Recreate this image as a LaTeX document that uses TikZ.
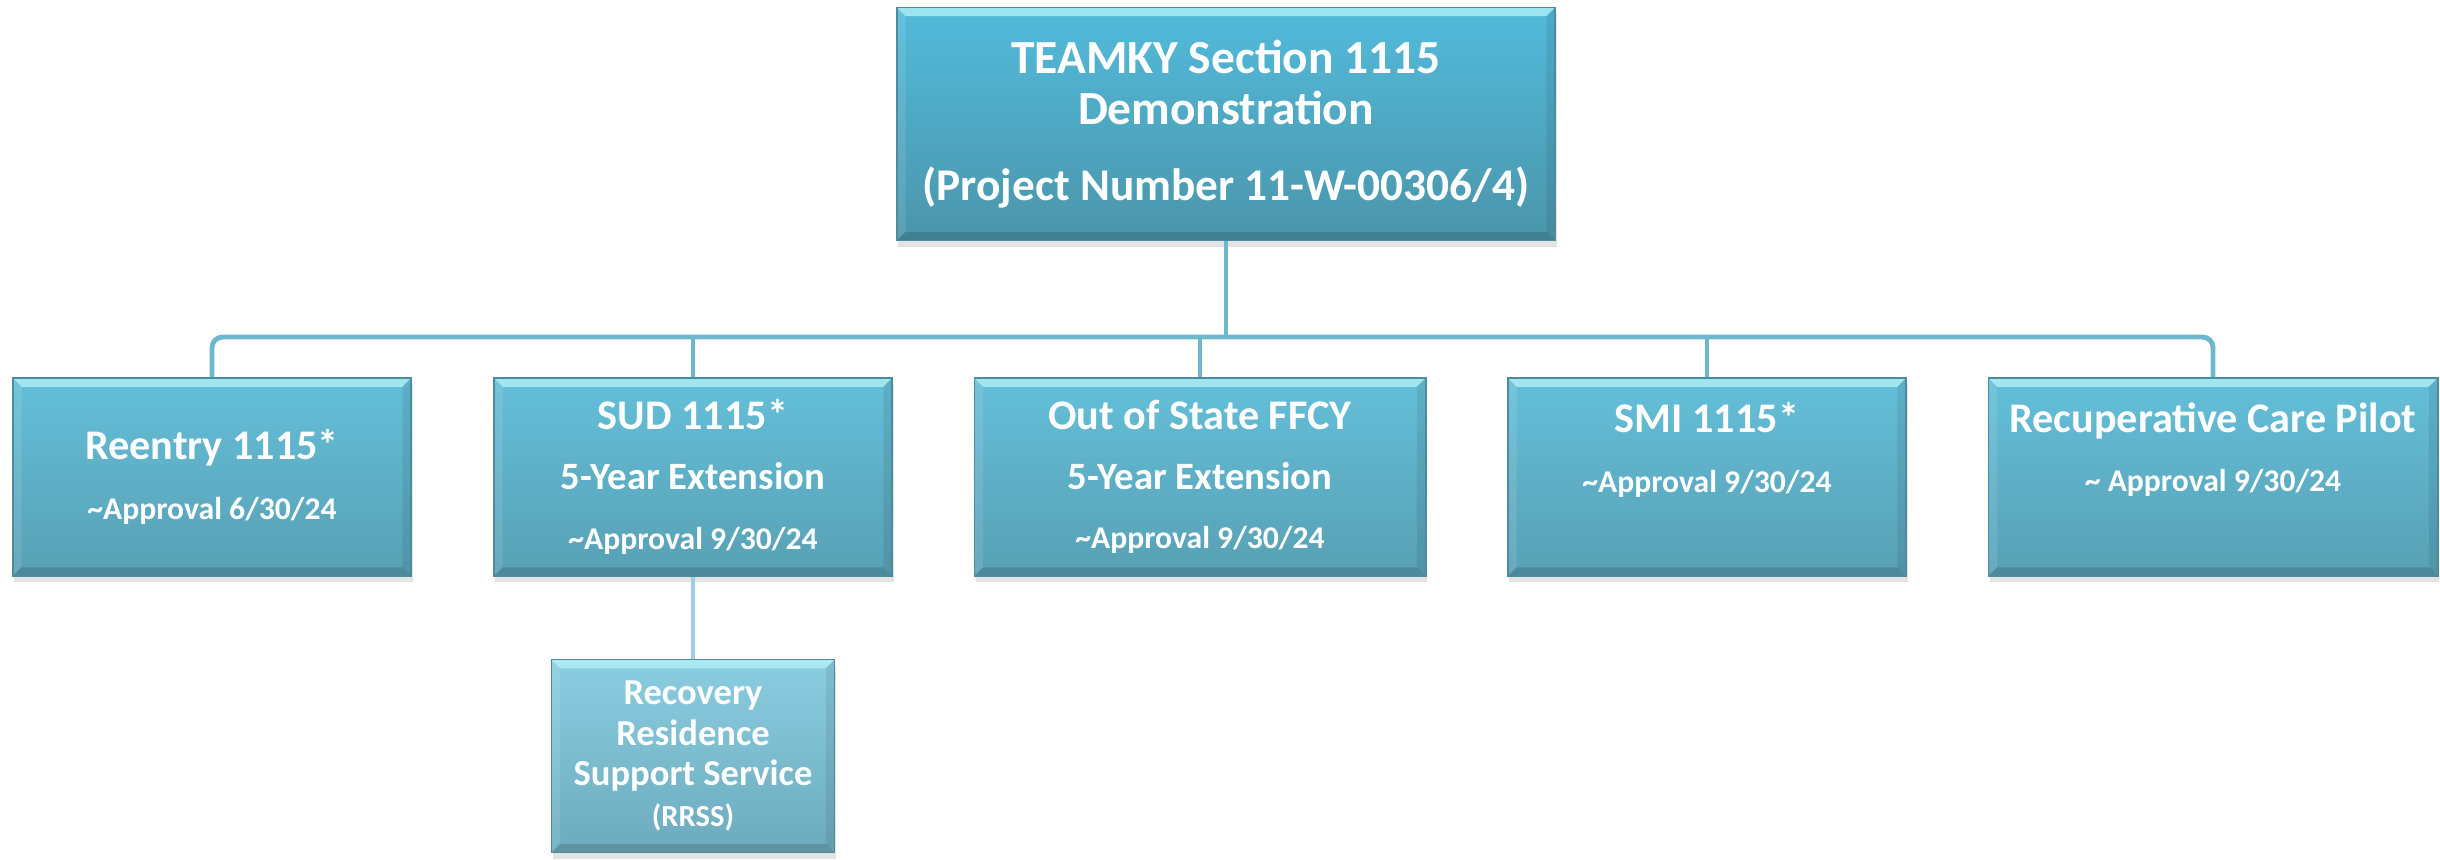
\documentclass[tikz,border=0pt]{standalone}
\usepackage{fontspec}
\setmainfont{Carlito}
\usetikzlibrary{shadows}
\definecolor{headtop}{HTML}{52BBDB}
\definecolor{headbot}{HTML}{4B95AA}
\definecolor{boxtop}{HTML}{64BFD9}
\definecolor{boxbot}{HTML}{58A0B4}
\definecolor{subtop}{HTML}{8BCDE1}
\definecolor{subbot}{HTML}{6CABBD}
\definecolor{boxedge}{HTML}{4D8C9D}
\definecolor{bevellight}{HTML}{B6F4F8}
\definecolor{linkcol}{HTML}{6DB8CC}
\definecolor{sublink}{HTML}{9DD0E0}
\newcommand{\extsize}{\fontsize{11}{17}\selectfont}
\newcommand{\datesize}{\fontsize{9}{17}\selectfont}
\newcommand{\rrsssize}{\fontsize{8.7}{11.6}\selectfont}
\newcommand{\projsize}{\fontsize{12.9}{14.5}\selectfont}
\tikzset{
  bevel/.style={path picture={
    \fill[bevellight,opacity=0.75] (path picture bounding box.north west) -- (path picture bounding box.north east)
      -- ([xshift=-2.5pt,yshift=-2.5pt]path picture bounding box.north east) -- ([xshift=2.5pt,yshift=-2.5pt]path picture bounding box.north west) -- cycle;
    \fill[black,opacity=0.14] (path picture bounding box.south west) -- (path picture bounding box.south east)
      -- ([xshift=-2.5pt,yshift=2.5pt]path picture bounding box.south east) -- ([xshift=2.5pt,yshift=2.5pt]path picture bounding box.south west) -- cycle;
    \fill[black,opacity=0.08] (path picture bounding box.north east) -- (path picture bounding box.south east)
      -- ([xshift=-2.5pt,yshift=2.5pt]path picture bounding box.south east) -- ([xshift=-2.5pt,yshift=-2.5pt]path picture bounding box.north east) -- cycle;
    \fill[white,opacity=0.10] (path picture bounding box.north west) -- (path picture bounding box.south west)
      -- ([xshift=2.5pt,yshift=2.5pt]path picture bounding box.south west) -- ([xshift=2.5pt,yshift=-2.5pt]path picture bounding box.north west) -- cycle;
  }},
  box/.style={rectangle, draw=boxedge, line width=0.5pt, top color=boxtop, bottom color=boxbot,
    text=white, align=center, inner sep=0pt, minimum width=3.98cm, minimum height=1.98cm, bevel,
    drop shadow={opacity=0.22, shadow xshift=0.4pt, shadow yshift=-1.8pt},
    font=\bfseries\fontsize{12}{17}\selectfont},
  headbox/.style={box, top color=headtop, bottom color=headbot, minimum width=6.58cm, minimum height=2.33cm,
    font=\bfseries\fontsize{13.5}{14.5}\selectfont},
  subbox/.style={box, top color=subtop, bottom color=subbot, minimum width=2.83cm, minimum height=1.93cm,
    font=\bfseries\fontsize{10.4}{11.6}\selectfont},
  link/.style={draw=linkcol, line width=1.4pt},
}

\begin{document}
\begin{tikzpicture}[x=0.01cm, y=-0.01cm]
  \useasboundingbox (0,0) rectangle (2440,859);
  % top
  \node[headbox] (top) at (1226,124) {TEAMKY Section 1115\\Demonstration\\[7pt]{\projsize (Project Number 11-W-00306/4)}};
  % row of waivers
  \node[box] (reentry) at (212,477) {Reentry 1115*\\{\datesize\textasciitilde Approval 6/30/24}};
  \node[box] (sud) at (693,477) {SUD 1115*\\{\extsize 5-Year Extension}\\{\datesize\textasciitilde Approval 9/30/24}};
  \node[box, minimum width=4.51cm] (ffcy) at (1200,477) {Out of State FFCY\\{\extsize 5-Year Extension}\\{\datesize\textasciitilde Approval 9/30/24}};
  \node[box] (smi) at (1707,477) {SMI 1115*\\{\datesize\textasciitilde Approval 9/30/24}\\\mbox{}};
  \node[box, minimum width=4.49cm] (recup) at (2213,477) {Recuperative Care Pilot\\{\datesize\textasciitilde{} Approval 9/30/24}\\\mbox{}};
  % under SUD
  \node[subbox] (rrss) at (693,756) {Recovery\\Residence\\Support Service\\{\rrsssize (RRSS)}};
  % lines
  \coordinate (bar) at (1226,337);
  \draw[link] (top.south) -- (top.south |- bar);
  \draw[link, rounded corners=3pt] (reentry.north) |- (bar) -| (recup.north);
  \foreach \kid in {sud,ffcy,smi}
    \draw[link] (\kid.north |- bar) -- (\kid.north);
  \draw[link, draw=sublink] (sud.south) -- (rrss.north);
\end{tikzpicture}
\end{document}
